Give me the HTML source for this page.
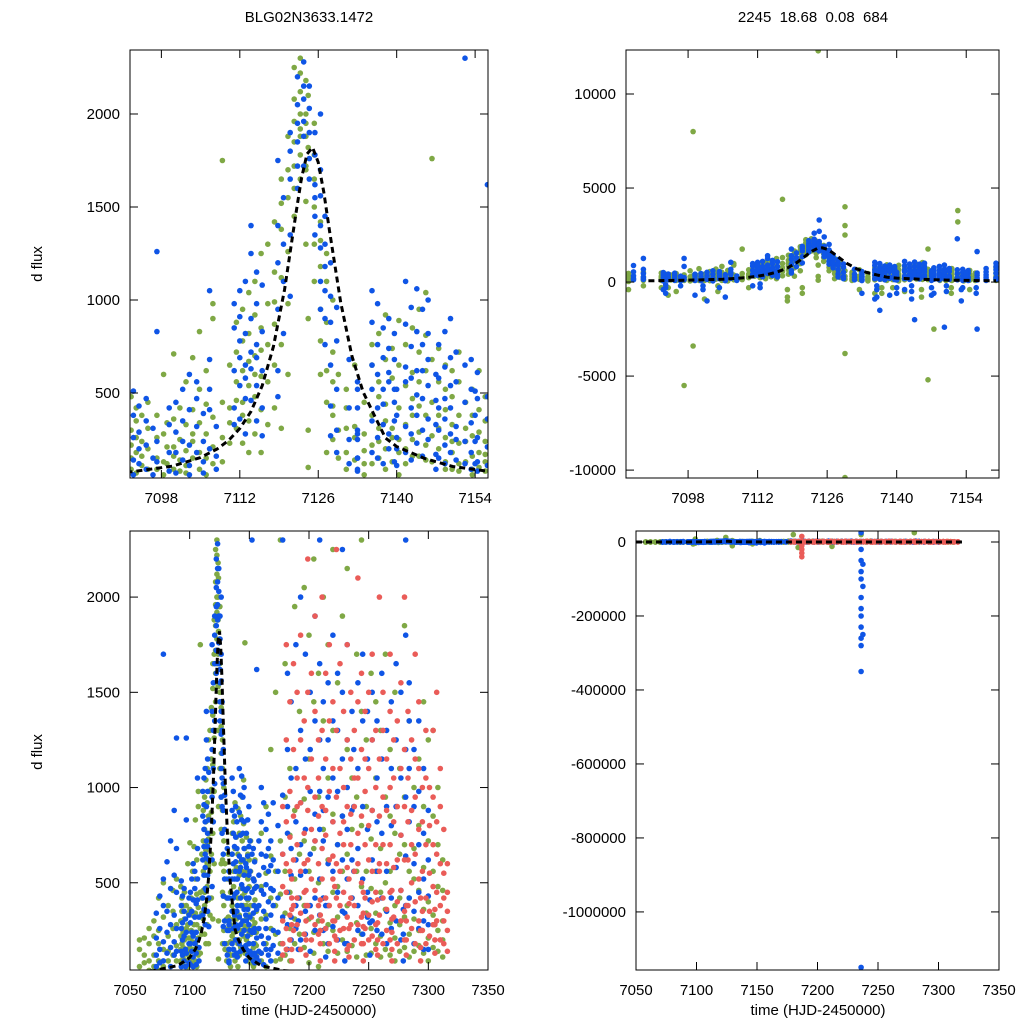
<!DOCTYPE html>
<html><head><meta charset="utf-8"><style>
html,body{margin:0;padding:0;background:#fff;width:1024px;height:1024px;overflow:hidden}
svg{display:block;font-family:"Liberation Sans",sans-serif}
</style></head><body>
<svg id="chart" width="1024" height="1024" viewBox="0 0 1024 1024" xmlns="http://www.w3.org/2000/svg">
<rect width="1024" height="1024" fill="#fff"/>
<text x="309" y="22" text-anchor="middle" font-size="15">BLG02N3633.1472</text>
<text x="813" y="22" text-anchor="middle" font-size="15" xml:space="preserve">2245  18.68  0.08  684</text>
<text transform="translate(42,264) rotate(-90)" text-anchor="middle" font-size="15">d flux</text>
<text transform="translate(42,752) rotate(-90)" text-anchor="middle" font-size="15">d flux</text>
<text x="309" y="1015" text-anchor="middle" font-size="15">time (HJD-2450000)</text>
<text x="818" y="1015" text-anchor="middle" font-size="15">time (HJD-2450000)</text>
</svg>
<script>
// Series rows: [time, flux, flux, ...] (points of one night)
const greenRows = [
[7058,150,60,-200,30,200],[7062,80,210,-100,120,20],[7066,40,260,90,-50,180],[7070,300,120,60,-300,220],[7074,180,420,90,250,40],[7078,500,150,320,-150,60],[7082,220,90,380,140,-80],[7086,350,120,460,260,30,-400],[7089,280,520,90,170,-200],
[7092.6,480,300,220,150,90,-300],[7093.5,180,420,260,70,350],[7094.5,110,240,380,160],[7095.6,200,90,310,450,-500],[7097.2,150,260,90,-5500,380],[7098.4,280,130,60,600],[7099,8000,210,-3400,340,120],[7100.2,210,360,90,160,710],[7101.3,250,140,420,80,-900],[7102.4,560,330,190,110,70],[7103.6,690,410,280,150,240],[7104.8,180,340,520,90,830],[7106,280,150,620,440,60],[7107.2,900,370,210,980,120],[7108.9,1750,450,260,130],[7110.2,230,420,650,340,-300],[7111.4,560,720,880,310,460],[7112.5,450,620,950,780,230,380],[7113.6,820,540,1040,670,350,180],[7114.7,700,920,480,1100,600,280],[7115.8,590,850,1250,410,180,730],[7117,1300,980,560,760,330,4400],[7118.2,1150,870,1420,650,420,990],[7119.4,1380,1120,760,1520,310,1650],[7120.6,1550,1700,1260,1880,980,600],[7121.7,1960,1720,1850,2080,1600,1450,2250],[7122.8,2000,1920,1780,2220,1880,1650,2120,2300],[7123.8,1700,2000,1880,1950,2180,1720,1530,1300],[7124.2,12300,2100,1820,900,300,100],[7125.3,1780,1500,1650,1300,1100,1950],[7126.4,1420,1180,950,1320,780,600],[7127.5,1100,880,620,1250,450,180],[7128.6,720,430,380,560,250,1000],[7129.6,4000,3000,2500,-3800,-10400,600,300,150],[7131,310,520,180,90,420],[7132.5,650,320,140,260,-400],[7134.2,280,120,450,190,60],[7135.6,380,650,220,120,760,-600],[7136.8,480,310,820,150,560,240],[7138,680,350,200,920,440,90],[7139.2,310,580,130,740,260,-300],[7140.4,420,250,650,180,890,60],[7141.6,200,540,330,760,120,-500],[7142.8,610,380,850,250,470,160],[7144,290,720,430,160,560,950],[7145.2,1040,380,620,220,810,140],[7146.3,1760,450,270,680,130,-5200],[7147.5,380,560,200,740,310,-2500],[7148.7,520,260,130,650,410,90],[7149.9,330,180,480,90,620,240],[7151.1,120,380,560,230,80,720],[7152.3,3800,3200,240,450,130,310],[7153.5,90,270,520,160,380,60],[7154.7,410,180,620,100,290,-400],[7155.8,130,350,240,480,80,170],
[7094,-300,-700],[7104,-500,-200],[7118,-400,-800,-1000],[7121,-600,-300],[7137,-300,-600],[7145,-400,-800],[7151,-300,-600],
[7160,220,480,130,760,310,90],[7164,550,180,900,330,60,-300],[7168,260,1200,640,150,420],[7172,380,90,560,1500,230,-600],[7176,180,720,2300,440,100],[7180,950,340,120,1650,560,20000],[7184,260,1100,450,750,90,-15000],[7188,1950,520,180,880,310],[7192,420,1400,230,650,150],[7196,720,160,2050,380,940],[7200,310,1150,560,80,1800],[7204,1450,240,680,2200,130],[7208,500,950,300,1600,60],[7212,180,780,1350,420,2000,-12000],[7216,620,280,1050,140,1750],[7220,2250,450,860,250,1300],[7224,320,1550,700,130,480],[7228,850,200,1900,560,350],[7232,140,650,1200,380,2150],[7236,1050,420,170,780,20000],[7240,560,1700,290,950,110],[7244,230,800,1400,480,2300],[7248,900,340,120,1250,560],[7252,470,1600,260,730,130],[7256,180,560,1050,340,1450],[7260,1300,220,680,450,110],[7264,360,950,150,1700,500],[7268,850,290,560,120,1200],[7272,210,1500,380,760,90],[7276,650,140,1100,420,280],[7280,1850,320,700,160,950,25000],[7284,420,1350,230,560,110],[7288,140,680,1000,310,520],[7292,1150,250,460,800,170],[7296,360,900,130,580,1450],[7300,720,210,1250,400,90],[7304,160,560,330,850,1300],[7308,480,140,700,250,1000],[7312,300,620,110,460,200]
];
const blueRows = [
[7072,120,340,60,210,-200],[7075,260,80,430,150],[7078,1700,380,190,520,90],[7081,240,610,130,350,-300],[7084,470,160,720,280,60],[7087,330,880,190,540,120],[7089,1260,450,260,680,140],
[7093,510,380,260,140,60,-400],[7094,430,290,120,200],[7095.3,220,90,350,470],[7096.5,310,150,60,-200],[7097.2,830,1260,240,130],[7099.4,330,180,80,420,-700],[7100.6,180,290,450,70],[7101.8,520,350,140,240,-1000],[7103,600,410,220,110,60],[7104.3,470,320,560,180,-300],[7105.5,240,390,130,70,-800],[7106.6,1050,680,410,200,520],[7107.8,160,320,90],[7111,620,850,420,330,980,-200],[7112,780,540,1050,690,360,910],[7113,470,820,650,1100,580,280],[7114,900,720,1250,460,630,1400],[7115,540,980,760,350,1150,690],[7116,830,620,1080,420,270],[7118.8,1200,950,1400,620,480,1750],[7119.8,1550,1100,820,1300],[7121,1800,1350,1650,1900,1020],[7122.3,2050,1720,1950,2200,1850,1600],[7123.4,2280,1880,2080,1720,1960,2150,2600],[7124.4,2150,1760,1900,2030,1650,3300,2700],[7125.4,1900,1620,1450,1780,1550,1350,2400],[7126.4,1560,1280,1400,1100,1700,950,2000],[7127.2,1300,1180,900,1450,760,1050],[7128.2,880,650,1020,430,270,1200],[7129.3,520,300,180,780,960],[7131.5,420,250,120,680],[7133,280,150,520,80,-600],[7135.6,520,880,350,180,650,1050,-900],[7136.6,760,420,980,260,600,150,-1500],[7137.6,330,690,520,850,120,440],[7138.6,900,560,280,740,200,610,-700],[7139.6,450,820,350,130,680,520],[7141.6,560,320,870,180,640,1100,-400],[7142.6,750,420,960,280,580,140],[7143.6,1060,620,380,830,490,230,-2000],[7144.6,470,760,300,950,160,620],[7145.6,680,360,820,540,1000,250],[7147.5,580,300,760,150,420,-600],[7148.6,830,470,220,640,120,360],[7149.6,420,690,280,900,180,540,-2400],[7150.6,320,560,140,720,250],[7152.2,2300,450,240,650,120],[7153.3,680,340,180,520,90,-300],[7154.4,260,470,130,610,80],[7156.2,1620,360,210,110,480,-2500],
[7093.5,-300,-600,-150],[7101,-400,-200],[7112.5,-300,-100],[7136,-400,-800,-200],[7140,-600,-300],[7143,-500,-900,-200],[7147,-300,-700],[7150,-500,-200],[7153,-1000,-400],[7156,-300,-600],
[7133,150,300,90,420,250,560],[7140,200,380,110,520,260],[7147,90,330,460,170,600],[7154,240,120,380,510],
[7158,380,720,140,540,260,90],[7160,820,460,220,650,130,1000],[7162,350,580,920,180,440,70],[7164,640,260,780,150,490,310],[7166,210,560,400,860,120,680],[7168,470,150,720,330,590,90],[7170,380,920,250,620,170,460],[7174,560,240,800,130,420],[7178,2300,320,650,180,960],[7182,450,1200,760,280,1600,900,150],[7185,680,1050,320,1450,540,200],[7189,1100,380,820,1750,260,620],[7191,150,300,420],[7193,540,920,1300,200,700,2000],[7197,780,350,1150,560,1700,230],[7201,1200,650,380,980,1500,140],[7205,420,860,1350,250,720,1900],[7209,1650,980,520,1250,330,780,2300],[7212,720,1450,420,1100,250,880],[7214,260,110,380],[7216,950,380,1250,600,1550,180],[7220,1350,560,820,1800,270,1050],[7224,450,980,1300,700,200,1600],[7228,1150,620,350,1500,850,2250],[7230,180,340,90],[7232,520,1250,780,180,1000,1750],[7236,880,420,1400,620,-50000,-80000,-100000,-150000,-180000,-200000,-230000,-260000,-280000,-350000,-1150000,25000,-20000],[7237.5,1200,560,900,-120000,-250000,-60000],[7241,680,1100,380,1550,250],[7245,1350,520,900,230,1700],[7249,450,1150,780,1400,320],[7251,120,290,410],[7253,880,300,1250,620,1500],[7257,560,1050,250,820,1350],[7261,1150,420,760,1600,230],[7265,350,900,1300,560,180],[7269,800,1450,420,1100,260],[7273,1250,580,900,300,1650],[7277,460,1050,750,1500,200],[7279,230,90,360],[7281,2300,1800,1200,640,950,380],[7284,1550,820,1100,420,1350],[7288,600,1200,350,900,180],[7292,980,450,1350,260,700],[7296,300,760,520,1100,150],[7300,620,280,880,430,150]
];
const redRows = [
[7178,300,650,180,480,900,120],[7181,820,450,1250,260,600,1750,150],[7184,560,980,330,740,1450,200],[7185.5,150,280,420,90,360,520],[7187,1200,380,850,620,1650,250,-10000,-20000,-30000,-40000,15000],[7190,700,1050,420,280,900,1500],[7193,1800,560,920,340,1250,150],[7196,450,1350,760,230,1050,600],[7197.5,200,120,380,460,300],[7199,1000,620,1500,380,880,2200],[7202,320,780,1150,520,1600,200],[7205,1400,460,950,280,720,1900],[7208,600,1250,380,850,1050,230],[7209.5,90,250,410,180,330],[7211,2000,520,900,680,300,1300],[7214,750,1150,420,1600,260,880],[7217,380,980,620,1350,180,1750],[7220,1100,520,820,300,1450,640],[7221.5,140,300,480,220,90],[7223,600,1300,420,950,200,2250],[7226,1650,760,380,1100,560,250],[7229,450,1000,700,1400,260,820],[7232,1250,580,900,320,1750,150],[7233.5,260,110,390,520,170],[7235,700,1150,420,860,280,1500],[7238,380,900,1300,560,200,1050],[7241,1050,600,280,1450,760,2100],[7244,500,1200,850,320,1600,180],[7245.5,180,340,90,450,270],[7247,1400,700,420,980,260,1150],[7250,620,1100,330,800,1500,200],[7253,880,400,1250,560,220,1700],[7256,450,1000,700,280,1300,150],[7257.5,120,290,410,200],[7259,1150,560,850,330,600,2000],[7262,700,1300,420,950,180,1500],[7265,360,880,600,1150,250],[7268,1000,450,1400,700,200,1700],[7269.5,310,150,460,90,240],[7271,580,1050,320,820,1250],[7274,1350,620,400,900,180],[7277,460,1100,750,300,1550],[7280,900,350,1200,620,200,2000],[7281.5,200,380,120,300],[7283,620,1050,380,820,1400],[7286,1250,500,880,260,700],[7289,400,950,650,1150,180,1700],[7292,780,300,1100,520,1450],[7293.5,160,420,250,90],[7295,560,1000,250,820,350],[7298,1050,420,700,1300,180],[7301,350,800,550,1000,220],[7304,700,280,950,480,1300],[7305.5,130,280,360,200],[7307,450,820,300,650,1500],[7310,900,380,600,200,1100],[7313,300,550,780,420,180],[7316,600,250,450,350,140]
];
const modelT = [7050,7070,7090,7100,7105,7108,7110,7112,7114,7116,7118,7120,7122,7123,7124,7125,7126,7127,7128,7130,7132,7134,7136,7138,7140,7145,7150,7160,7180,7200,7250,7320];
const modelF = [30,39,65,107,153,200,245,309,401,539,749,1057,1460,1652,1785,1820,1741,1580,1376,987,699,506,380,258,212,148,105,64,38,30,25,22];
const ticksTopLeftX = [7098,7112,7126,7140,7154];
const ticksTopLeftY = [500,1000,1500,2000];
const ticksTopRightY = [-10000,-5000,0,5000,10000];
const ticksBottomX = [7050,7100,7150,7200,7250,7300,7350];
const ticksBottomRightY = [0,-200000,-400000,-600000,-800000,-1000000];

const NS = 'http://www.w3.org/2000/svg';
const svg = document.getElementById('chart');
function mk(tag, attrs, parent){const e=document.createElementNS(NS,tag);for(const k in attrs)e.setAttribute(k,attrs[k]);(parent||svg).appendChild(e);return e;}

const panels = [
 {id:'top-left', x0:130,x1:488,y0:50,y1:478, tmin:7092.4,tmax:7156.3, fmin:43,fmax:2344, xt:ticksTopLeftX, yt:ticksTopLeftY, series:['g','b']},
 {id:'top-right', x0:626,x1:999,y0:50,y1:478, tmin:7085.5,tmax:7160.6, fmin:-10420,fmax:12340, xt:ticksTopLeftX, yt:ticksTopRightY, series:['g','b']},
 {id:'bottom-left', x0:130,x1:488,y0:531,y1:970, tmin:7050,tmax:7350, fmin:42,fmax:2347, xt:ticksBottomX, yt:ticksTopLeftY, series:['g','b','r']},
 {id:'bottom-right', x0:636,x1:999,y0:531,y1:970, tmin:7050,tmax:7350, fmin:-1157000,fmax:29700, xt:ticksBottomX, yt:ticksBottomRightY, series:['g','b','r']}
];
const colors = {g:'#7fa845', b:'#0f55e6', r:'#ea5c58'};
const rowsOf = {g:greenRows, b:blueRows, r:redRows};
const nameOf = {g:'green', b:'blue', r:'red'};

panels.forEach(p=>{
  const sx = t => p.x0 + (t-p.tmin)/(p.tmax-p.tmin)*(p.x1-p.x0);
  const sy = f => p.y1 - (f-p.fmin)/(p.fmax-p.fmin)*(p.y1-p.y0);
  const g = mk('g',{});
  
  
  const cp = mk('clipPath',{id:'clip-'+p.id}, g);
  mk('rect',{x:p.x0,y:p.y0,width:p.x1-p.x0,height:p.y1-p.y0}, cp);
  const plot = mk('g',{'clip-path':'url(#clip-'+p.id+')'}, g);
  p.series.forEach(s=>{
    const sg = mk('g',{fill:colors[s]}, plot);
    
    
    rowsOf[s].forEach(row=>{
      const t=row[0];
      if(t<p.tmin-0.5||t>p.tmax+0.5) return;
      for(let i=1;i<row.length;i++){
        const f=row[i];
        if(f<p.fmin-0.02*(p.fmax-p.fmin)||f>p.fmax+0.02*(p.fmax-p.fmin)) continue;
        const c = mk('circle',{cx:sx(t).toFixed(1),cy:sy(f).toFixed(1),r:2.8}, sg);
        
        
      }
    });
  });
  const pts=[];
  modelT.forEach((t,i)=>{ if(t>=p.tmin-10&&t<=p.tmax+10) pts.push([sx(t),sy(modelF[i])]); });
  const d = pts.map((q,i)=>(i?'L':'M')+q[0].toFixed(1)+','+q[1].toFixed(1)).join('');
  const ml = mk('path',{d:d,fill:'none',stroke:'#000','stroke-width':3,'stroke-dasharray':'6,4'}, plot);
  
  
  const fr = mk('rect',{x:p.x0,y:p.y0,width:p.x1-p.x0,height:p.y1-p.y0,fill:'none',stroke:'#000','stroke-width':1}, g);
  
  
  p.xt.forEach(t=>{
    const x=sx(t);
    mk('line',{x1:x,x2:x,y1:p.y1,y2:p.y1-8,stroke:'#000'}, g);
    mk('line',{x1:x,x2:x,y1:p.y0,y2:p.y0+8,stroke:'#000'}, g);
    const lb = mk('text',{x:x,y:p.y1+25,'text-anchor':'middle','font-size':15}, g);
    lb.textContent = t;
    
    
  });
  p.yt.forEach(f=>{
    const y=sy(f);
    mk('line',{x1:p.x0,x2:p.x0+8,y1:y,y2:y,stroke:'#000'}, g);
    mk('line',{x1:p.x1,x2:p.x1-8,y1:y,y2:y,stroke:'#000'}, g);
    const lb = mk('text',{x:p.x0-10,y:y+5,'text-anchor':'end','font-size':15}, g);
    lb.textContent = f;
    
    
  });
});
</script>
</body></html>
